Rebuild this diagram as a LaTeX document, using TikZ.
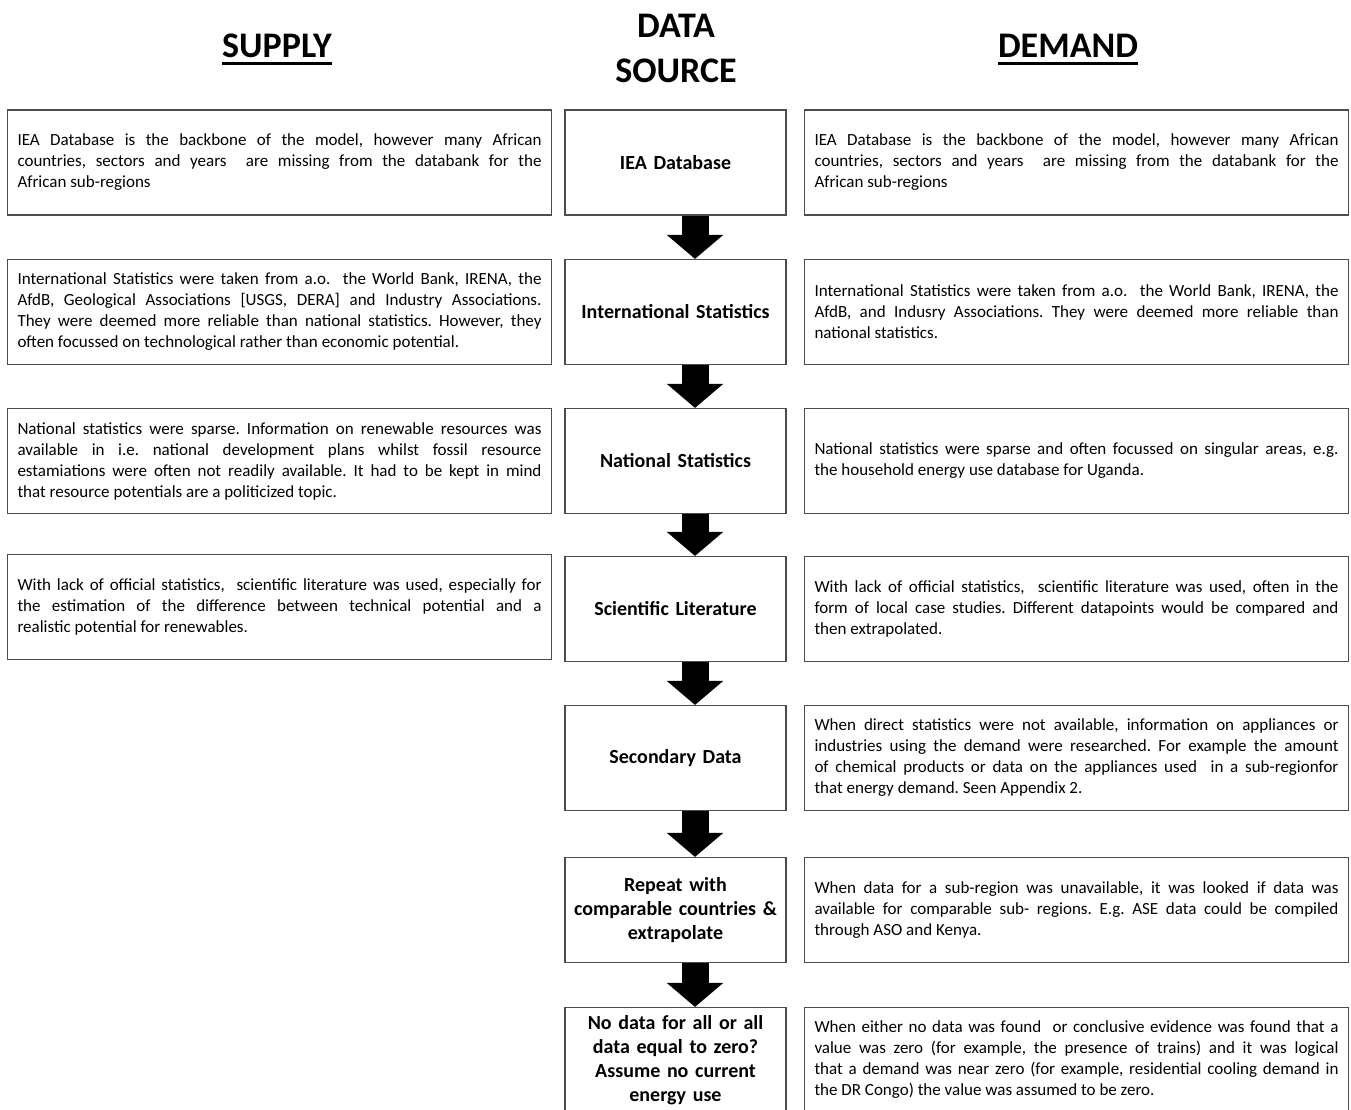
\documentclass[tikz,border=0pt]{standalone}
\usepackage{fontspec}
\setmainfont{Carlito}
\usetikzlibrary{
    arrows.meta,
    positioning
}
\frenchspacing
\newcommand{\hdline}[1]{\setbox0\hbox{#1}\rlap{\rule[-7.5pt]{\wd0}{3pt}}\box0}

\begin{document}
\begin{tikzpicture}[
        x=1pt, y=-1pt,
        title/.style={font=\fontsize{36}{45}\selectfont\bfseries, align=center, inner sep=0pt},
        srcbox/.style={draw=black!70, line width=1.1pt, minimum width=221pt, minimum height=105pt, text width=205pt, inner sep=0pt, align=center, font=\fontsize{20}{24}\selectfont\bfseries},
        notebox/.style={draw=black!70, line width=1.1pt, minimum width=544pt, minimum height=105pt, text width=524pt, inner sep=0pt, align=justify, font=\fontsize{17}{21}\selectfont},
        arrow/.style={line width=27pt, -{Triangle[length=24pt, width=55pt]}}
    ]
        \useasboundingbox (0,0) rectangle (1351,1110);

        % Headings
        \node[title, anchor=base] (supply) at (277,58) {\hdline{SUPPLY}};
        \node[title] (source) at (676,48) {DATA\\SOURCE};
        \node[title, anchor=base] (demand) at (1068,58) {\hdline{DEMAND}};

        % Data sources
        \node[srcbox] (iea) at (675.5,162.5) {IEA Database};
        \node[srcbox] (intl) at (675.5,312) {International Statistics};
        \node[srcbox] (natl) at (675.5,461) {National Statistics};
        \node[srcbox] (lit) at (675.5,609) {Scientific Literature};
        \node[srcbox] (sec) at (675.5,758) {Secondary Data};
        \node[srcbox] (rep) at (675.5,910) {Repeat with\\comparable countries \&\\extrapolate};
        \node[srcbox] (none) at (675.5,1060) {No data for all or all\\data equal to zero?\\Assume no current\\energy use};

        % Supply
        \node[notebox] (sup1) at (279.5,162.5) {IEA Database is the backbone of the model, however many African\linebreak countries, sectors and years\ \ are missing from the databank for the\linebreak African sub-regions};
        \node[notebox] (sup2) at (279.5,312) {International Statistics were taken from a.o.\ \ the World Bank, IRENA, the\linebreak AfdB, Geological Associations [USGS, DERA] and Industry Associations.\linebreak They were deemed more reliable than national statistics. However, they\linebreak often focussed on technological rather than economic potential.};
        \node[notebox] (sup3) at (279.5,461) {National statistics were sparse. Information on renewable resources was\linebreak available in i.e. national development plans whilst fossil resource\linebreak estamiations were often not readily available. It had to be kept in mind\linebreak that resource potentials are a politicized topic.};
        \node[notebox] (sup4) at (279.5,607) {With lack of official statistics,\ \ scientific literature was used, especially for\linebreak the estimation of the difference between technical potential and a\linebreak realistic potential for renewables.};

        % Demand
        \node[notebox] (dem1) at (1076.5,162.5) {IEA Database is the backbone of the model, however many African\linebreak countries, sectors and years\ \ are missing from the databank for the\linebreak African sub-regions};
        \node[notebox] (dem2) at (1076.5,312) {International Statistics were taken from a.o.\ \ the World Bank, IRENA, the\linebreak AfdB, and Indusry Associations. They were deemed more reliable than\linebreak national statistics.};
        \node[notebox] (dem3) at (1076.5,461) {National statistics were sparse and often focussed on singular areas, e.g.\linebreak the household energy use database for Uganda.};
        \node[notebox] (dem4) at (1076.5,609) {With lack of official statistics,\ \ scientific literature was used, often in the\linebreak form of local case studies. Different datapoints would be compared and\linebreak then extrapolated.};
        \node[notebox] (dem5) at (1076.5,758) {When direct statistics were not available, information on appliances or\linebreak industries using the demand were researched. For example the amount\linebreak of chemical products or data on the appliances used\ \ in a sub-regionfor\linebreak that energy demand. Seen Appendix 2.};
        \node[notebox] (dem6) at (1076.5,910) {When data for a sub-region was unavailable, it was looked if data was\linebreak available for comparable sub- regions. E.g. ASE data could be compiled\linebreak through ASO and Kenya.};
        \node[notebox] (dem7) at (1076.5,1060) {When either no data was found\ \ or conclusive evidence was found that a\linebreak value was zero (for example, the presence of trains) and it was logical\linebreak that a demand was near zero (for example, residential cooling demand in\linebreak the DR Congo) the value was assumed to be zero.};

        % Arrows
        \foreach \i/\j in {iea/intl, intl/natl, natl/lit, lit/sec, sec/rep, rep/none} {
            \draw[arrow] ([xshift=19.5pt]\i.south) -- ([xshift=19.5pt]\j.north);
        }

    \end{tikzpicture}
\end{document}
